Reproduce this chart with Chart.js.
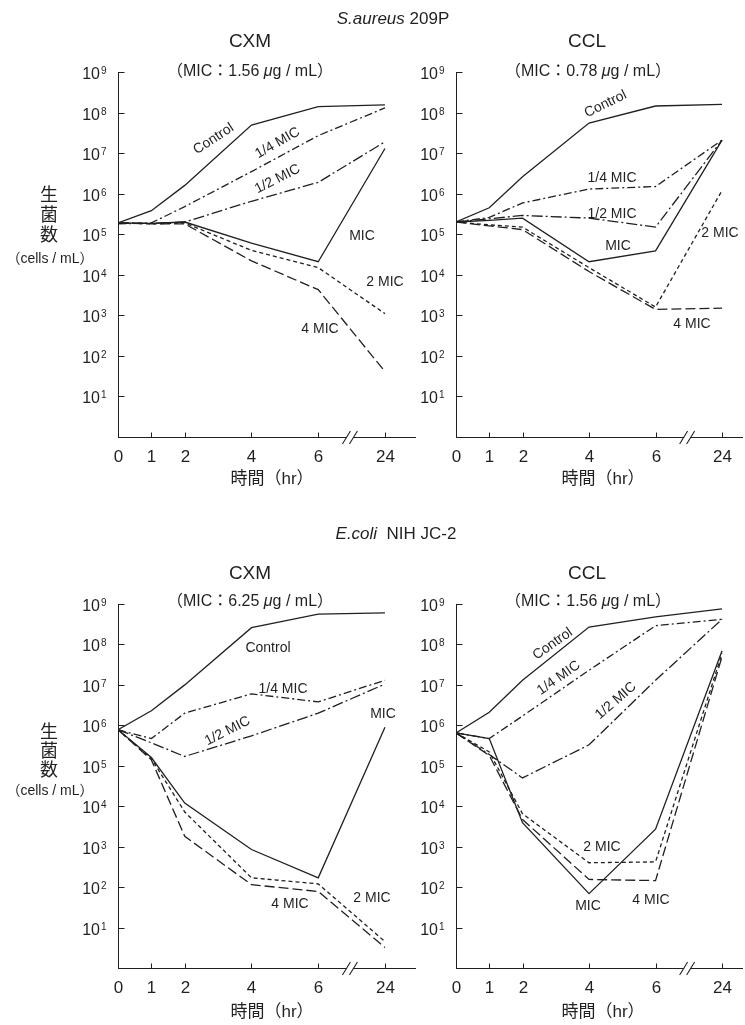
<!DOCTYPE html>
<html>
<head>
<meta charset="utf-8">
<script src="https://cdn.jsdelivr.net/npm/chart.js@4.4.1/dist/chart.umd.min.js"></script>
<style>
  body { margin: 0; background: #fff; }
  #wrap { position: relative; width: 745px; height: 1025px; overflow: hidden;
          font-family: "Liberation Sans", "Noto Sans CJK JP", sans-serif; color: #231f20; }
  canvas { position: absolute; left: 0; top: 0; }
  .t { position: absolute; white-space: nowrap; line-height: 1; transform: translate(-50%, -50%); }
  .jp { font-family: "Noto Sans CJK JP", sans-serif; }
</style>
</head>
<body>
<div id="wrap">
  <canvas id="c1" width="745" height="1025"></canvas>
  <canvas id="c2" width="745" height="1025"></canvas>
  <canvas id="c3" width="745" height="1025"></canvas>
  <canvas id="c4" width="745" height="1025"></canvas>
</div>
<script>
// sampling times (hr); 24 hr sits after the axis break
const hours = [0, 1, 2, 4, 6, 24];
const xTickHours = [0, 1, 2, 4, 6, 24];
const yTickValues = [1e1, 1e2, 1e3, 1e4, 1e5, 1e6, 1e7, 1e8, 1e9];
const seriesNames = ['Control', '1/4 MIC', '1/2 MIC', 'MIC', '2 MIC', '4 MIC'];

// S.aureus 209P, CXM
const saCxmControl = [1.9e5, 3.8e5, 1.6e6, 4.9e7, 1.4e8, 1.55e8];
const saCxmQuarter = [1.8e5, 1.9e5, 4.8e5, 3.5e6, 2.7e7, 1.3e8];
const saCxmHalf    = [1.9e5, 1.85e5, 2e5, 6.5e5, 1.9e6, 1.9e7];
const saCxmMic     = [1.9e5, 1.85e5, 2e5, 6e4, 2.1e4, 1.3e7];
const saCxm2Mic    = [1.9e5, 1.8e5, 1.9e5, 4e4, 1.5e4, 1.1e3];
const saCxm4Mic    = [1.9e5, 1.8e5, 1.8e5, 2.2e4, 4.3e3, 41];

// S.aureus 209P, CCL
const saCclControl = [2e5, 4.5e5, 2.6e6, 5.5e7, 1.45e8, 1.6e8];
const saCclQuarter = [2e5, 2.6e5, 5.9e5, 1.3e6, 1.5e6, 2.1e7];
const saCclHalf    = [2e5, 2.4e5, 2.9e5, 2.5e5, 1.5e5, 2.1e7];
const saCclMic     = [2e5, 2.2e5, 2.5e5, 2.1e4, 3.9e4, 2.1e7];
const saCcl2Mic    = [2e5, 1.7e5, 1.5e5, 1.5e4, 1.6e3, 1.2e6];
const saCcl4Mic    = [2e5, 1.6e5, 1.3e5, 1.2e4, 1.4e3, 1.5e3];

// E.coli NIH JC-2, CXM
const ecCxmControl = [7.8e5, 2.3e6, 1e7, 2.6e8, 5.6e8, 6e8];
const ecCxmQuarter = [7.8e5, 4.7e5, 2e6, 6e6, 3.8e6, 1.3e7];
const ecCxmHalf    = [7.8e5, 3.7e5, 1.7e5, 5.5e5, 2e6, 1.05e7];
const ecCxmMic     = [7.8e5, 1.6e5, 1.2e4, 850, 170, 9e5];
const ecCxm2Mic    = [7.8e5, 1.5e5, 7.2e3, 170, 120, 4.5];
const ecCxm4Mic    = [7.8e5, 1.4e5, 1.8e3, 115, 78, 3.2];

// E.coli NIH JC-2, CCL
const ecCclControl = [6.5e5, 2.1e6, 1.3e7, 2.7e8, 4.8e8, 7.6e8];
const ecCclQuarter = [6.5e5, 4.7e5, 1.7e6, 2.3e7, 2.9e8, 4.2e8];
const ecCclHalf    = [6.5e5, 1.9e5, 5e4, 3.3e5, 1.3e7, 4.2e8];
const ecCclMic     = [6.5e5, 4.7e5, 3.9e3, 69, 2.7e3, 7e7];
const ecCcl2Mic    = [6.5e5, 2.2e5, 6.5e3, 400, 420, 6e7];
const ecCcl4Mic    = [6.5e5, 1.8e5, 4.7e3, 155, 145, 5e7];

const INK = '#231f20';
const dashes = [[], [8, 3, 2, 3], [11, 3, 2, 3], [], [4, 3], [10, 4]];
const breakAt = 6.95;

// 24 hr is drawn at position 8 on the compressed axis
function pos(h) { return h === 24 ? 8 : h; }

function line(ctx, x1, y1, x2, y2) {
  ctx.beginPath(); ctx.moveTo(x1, y1); ctx.lineTo(x2, y2); ctx.stroke();
}

const axisDecor = {
  id: 'axisDecor',
  afterDraw(chart) {
    const { ctx, chartArea: a, scales: { x, y } } = chart;
    ctx.save();
    ctx.strokeStyle = INK;
    ctx.fillStyle = INK;
    ctx.lineWidth = 1;
    const left = Math.round(a.left) + 0.5;
    const bottom = Math.round(a.bottom) + 0.5;

    // y ticks (inward) and labels 10^n
    yTickValues.forEach(v => {
      const py = Math.round(y.getPixelForValue(v)) + 0.5;
      line(ctx, left, py, left + 6, py);
      const n = Math.round(Math.log10(v));
      ctx.font = '16px "Liberation Sans"';
      ctx.textAlign = 'right';
      ctx.textBaseline = 'alphabetic';
      ctx.fillText('10', a.left - 18, py + 6.5);
      ctx.font = '10px "Liberation Sans"';
      ctx.textAlign = 'left';
      ctx.fillText(String(n), a.left - 17, py + 1);
    });

    // x ticks (inward) and labels
    xTickHours.forEach(h => {
      const px = Math.round(x.getPixelForValue(pos(h))) + 0.5;
      if (h > 0) line(ctx, px, bottom, px, bottom - 5);
      ctx.font = '17px "Liberation Sans"';
      ctx.textAlign = 'center';
      ctx.textBaseline = 'middle';
      ctx.fillText(String(h), px, a.bottom + 20);
    });

    // axis break //
    const bx = x.getPixelForValue(breakAt);
    ctx.fillStyle = '#fff';
    ctx.fillRect(bx - 3, bottom - 1.5, 6, 3);
    ctx.lineWidth = 1.1;
    [-3.5, 3.5].forEach(d => line(ctx, bx + d - 4, bottom + 6.5, bx + d + 4, bottom - 6.5));
    ctx.restore();
  }
};

function panel(id, area, xMax, series) {
  const W = 745, H = 1025;
  new Chart(document.getElementById(id), {
    type: 'line',
    data: {
      datasets: series.map((vals, i) => ({
        label: seriesNames[i],
        data: hours.map((h, k) => ({ x: pos(h), y: vals[k] })),
        borderColor: INK,
        borderWidth: 1.3,
        borderDash: dashes[i],
        pointRadius: 0,
        tension: 0,
        fill: false
      }))
    },
    options: {
      responsive: false,
      animation: false,
      layout: { padding: { left: area[0], top: area[1], right: W - area[2], bottom: H - area[3] } },
      plugins: { legend: { display: false }, tooltip: { enabled: false } },
      scales: {
        x: {
          type: 'linear', min: 0, max: xMax,
          ticks: { display: false },
          grid: { drawOnChartArea: false, drawTicks: false },
          border: { color: INK, width: 1 },
          afterFit: s => { s.height = 0; }
        },
        y: {
          type: 'logarithmic', min: 1, max: 1e9,
          ticks: { display: false },
          grid: { drawOnChartArea: false, drawTicks: false },
          border: { color: INK, width: 1 },
          afterFit: s => { s.width = 0; }
        }
      }
    },
    plugins: [axisDecor]
  });
}

panel('c1', [118, 72, 415, 437], 8.9,
  [saCxmControl, saCxmQuarter, saCxmHalf, saCxmMic, saCxm2Mic, saCxm4Mic]);
panel('c2', [456, 72, 742, 437], 8.6,
  [saCclControl, saCclQuarter, saCclHalf, saCclMic, saCcl2Mic, saCcl4Mic]);
panel('c3', [118, 604, 415, 968], 8.9,
  [ecCxmControl, ecCxmQuarter, ecCxmHalf, ecCxmMic, ecCxm2Mic, ecCxm4Mic]);
panel('c4', [456, 604, 742, 968], 8.6,
  [ecCclControl, ecCclQuarter, ecCclHalf, ecCclMic, ecCcl2Mic, ecCcl4Mic]);

// text: [html, centerX, centerY, fontSize, rotation, extra class]
const texts = [
  ['<i>S.aureus</i> 209P', 393, 18, 17],
  ['CXM', 250, 40, 19], ['CCL', 587, 40, 19],
  ['（MIC：1.56 <i>μ</i>g / mL）', 250, 71, 16],
  ['（MIC：0.78 <i>μ</i>g / mL）', 588, 71, 16],
  ['生', 49, 193, 18, 0, 'jp'], ['菌', 49, 213, 18, 0, 'jp'], ['数', 49, 233, 18, 0, 'jp'],
  ['（cells / mL）', 50, 258, 14],
  ['時間（hr）', 272, 478, 17], ['時間（hr）', 603, 478, 17],

  ['Control', 213, 138, 14, -33], ['1/4 MIC', 277, 142, 14, -30], ['1/2 MIC', 277, 178, 14, -27],
  ['MIC', 362, 235, 14], ['2 MIC', 385, 281, 14], ['4 MIC', 320, 328, 14],
  ['Control', 605, 103, 14, -26], ['1/4 MIC', 612, 177, 14], ['1/2 MIC', 612, 213, 14],
  ['MIC', 618, 245, 14], ['2 MIC', 720, 232, 14], ['4 MIC', 692, 323, 14],

  ['<i>E.coli</i>&nbsp; NIH JC-2', 396, 533, 17],
  ['CXM', 250, 572, 19], ['CCL', 587, 572, 19],
  ['（MIC：6.25 <i>μ</i>g / mL）', 250, 601, 16],
  ['（MIC：1.56 <i>μ</i>g / mL）', 588, 601, 16],
  ['生', 49, 730, 18, 0, 'jp'], ['菌', 49, 749, 18, 0, 'jp'], ['数', 49, 768, 18, 0, 'jp'],
  ['（cells / mL）', 50, 790, 14],
  ['時間（hr）', 272, 1011, 17], ['時間（hr）', 603, 1011, 17],

  ['Control', 268, 647, 14], ['1/4 MIC', 283, 688, 14], ['1/2 MIC', 227, 730, 14, -27],
  ['MIC', 383, 713, 14], ['2 MIC', 372, 897, 14], ['4 MIC', 290, 903, 14],
  ['Control', 552, 643, 14, -35], ['1/4 MIC', 558, 677, 14, -35], ['1/2 MIC', 615, 700, 14, -41],
  ['2 MIC', 602, 846, 14], ['4 MIC', 651, 899, 14], ['MIC', 588, 905, 14]
];

const wrap = document.getElementById('wrap');
texts.forEach(([html, x, y, size, rot, cls]) => {
  const d = document.createElement('div');
  d.className = 't' + (cls ? ' ' + cls : '');
  d.innerHTML = html;
  d.style.left = x + 'px';
  d.style.top = y + 'px';
  d.style.fontSize = size + 'px';
  if (rot) d.style.transform = 'translate(-50%, -50%) rotate(' + rot + 'deg)';
  wrap.appendChild(d);
});
</script>
</body>
</html>
